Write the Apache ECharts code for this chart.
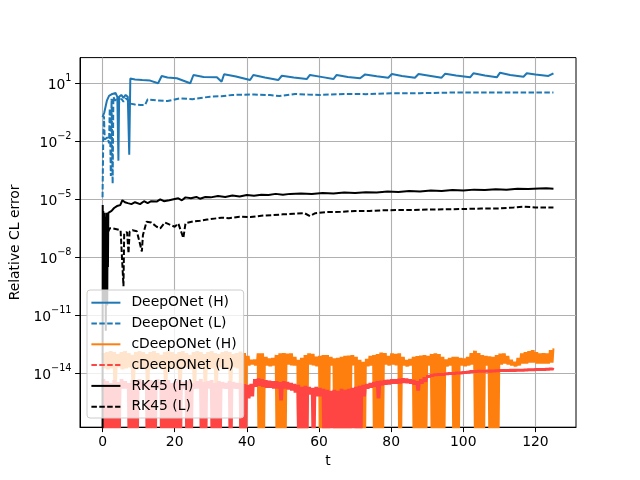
<!DOCTYPE html>
<html>
<head>
<meta charset="UTF-8">
<title>Relative CL error</title>
<script src="https://cdn.jsdelivr.net/npm/echarts/dist/echarts.min.js"></script>
<style>html, body { margin: 0; padding: 0; background: #fff; }</style>
</head>
<body>
<div id="chart" style="width: 640px; height: 480px;"></div>
<script type="text/javascript">
// tick positions
var xTicks = [0, 20, 40, 60, 80, 100, 120];
var yTicks = [1e-14, 1e-11, 1e-8, 1e-5, 1e-2, 1e1];

// [t, log10(error)]
var deepH = [[0,-0.75],[0.5,-0.5],[1.2,0.1],[1.8,0.35],[2.3,0.25],[2.7,0.45],[3.2,0.35],[3.6,0.5],[4.1,0.3],[4.4,-3.0],[4.6,0.3],
  [5.2,0.4],[5.8,0.25],[6.4,0.4],[7.0,0.3],[7.4,-2.7],[7.7,1.25],[9,1.2],[11,1.17],[13.2,1.14],[15.4,1.0],[16.4,1.38],[18,1.3],
  [20.6,1.26],[24.3,1.0],[25.2,1.43],[28,1.33],[31.7,1.31],[33,1.08],[33.7,1.47],[37,1.35],[40.9,1.17],[41.8,1.43],[45,1.3],
  [48.7,1.17],[49.7,1.39],[53,1.3],[56.6,1.22],[57.5,1.43],[61,1.32],[64,1.22],[64.9,1.43],[68,1.33],[71.4,1.26],[72.8,1.46],
  [76,1.37],[79.2,1.29],[80.2,1.48],[83,1.38],[86.6,1.29],[87.6,1.48],[91,1.38],[94,1.29],[95,1.5],[98,1.4],[101.9,1.31],
  [102.8,1.52],[106,1.4],[109.3,1.31],[110.2,1.55],[113,1.43],[116.7,1.34],[117.6,1.52],[120,1.45],[123.6,1.38],[125,1.52]];

var deepL = [[0,-4.9],[0.2,-1.8],[0.4,-0.7],[0.6,-1.9],[1.0,-2.0],[1.4,-1.8],[1.8,-2.1],[2.0,-0.3],[2.3,-3.8],[2.5,0.2],
  [2.8,-4.2],[3.0,0.3],[3.5,0.1],[4.0,0.25],[4.6,0.0],[5.2,0.2],[5.8,0.05],[6.5,0.22],[7.2,0.1],[7.7,-0.05],[9,-0.1],
  [10.5,-0.12],[11.8,-0.12],[12.5,0.17],[15,0.12],[18,0.08],[21.5,0.22],[25,0.18],[29.8,0.31],[33,0.33],[36,0.40],[42,0.42],
  [46.4,0.39],[49,0.34],[53.4,0.45],[57,0.42],[60.3,0.40],[67,0.45],[73,0.44],[80,0.48],[88,0.49],[99,0.53],[108,0.52],
  [116,0.53],[125,0.53]];

var rkH = [[0,-18],[0.05,-5.3],[0.1,-10.0],[0.2,-5.6],[0.3,-9.5],[0.4,-5.8],[0.5,-10.3],[0.6,-5.7],[0.7,-9.0],[0.8,-6.0],
  [0.9,-11.8],[1.0,-5.9],[1.1,-9.8],[1.2,-5.7],[1.3,-10.5],[1.4,-6.0],[1.5,-8.5],[1.6,-5.7],[1.8,-5.7],[2.5,-5.6],
  [3.2,-5.45],[4.0,-5.35],[4.9,-5.3],[5.5,-5.05],[5.8,-4.95],[6.2,-5.15],[7.0,-5.2],[8.0,-5.25],[9.0,-5.15],[10.4,-5.25],
  [11.5,-5.1],[12.5,-5.2],[13.5,-5.1],[15,-5.12],[16,-5.0],[17,-5.1],[18.5,-5.05],[19.7,-5.0],[21,-4.95],[22,-5.05],
  [23,-4.9],[24.5,-4.95],[26,-4.88],[27,-4.97],[28.5,-4.88],[30,-4.9],[32,-4.83],[34,-4.88],[36,-4.8],[38,-4.85],
  [40,-4.78],[42,-4.82],[44,-4.76],[46,-4.78],[48,-4.72],[50,-4.76],[52,-4.72],[55,-4.7],[58,-4.72],[61,-4.68],[64,-4.7],
  [67,-4.65],[70,-4.68],[73,-4.63],[76,-4.65],[79,-4.6],[82,-4.62],[85,-4.57],[88,-4.6],[91,-4.55],[94,-4.57],[97,-4.52],
  [100,-4.55],[103,-4.5],[106,-4.52],[109,-4.48],[112,-4.5],[115,-4.46],[118,-4.47],[121,-4.44],[123,-4.43],[125,-4.45]];

var rkL = [[1.5,-6.7],[2.0,-6.5],[2.8,-6.5],[3.9,-6.55],[5.0,-6.6],[5.8,-9.5],[6.0,-6.75],[6.8,-6.7],[7.2,-7.8],[7.5,-6.68],
  [8.3,-6.6],[9.5,-6.65],[10.9,-7.7],[11.2,-6.85],[12.2,-6.16],[13.5,-6.2],[15,-6.42],[16,-6.5],[17.3,-6.2],[18.5,-6.3],
  [20,-6.42],[21,-6.25],[22.4,-7.0],[23,-6.24],[25,-6.15],[27,-6.11],[29,-6.05],[31,-6.0],[33,-5.95],[35,-5.98],[38,-5.9],
  [41,-5.92],[44,-5.85],[47,-5.82],[50,-5.78],[53,-5.75],[56,-5.72],[57.5,-5.87],[59,-5.72],[62,-5.66],[66,-5.65],[70,-5.6],
  [74,-5.6],[78,-5.57],[82,-5.55],[86,-5.55],[90,-5.53],[95,-5.52],[100,-5.5],[105,-5.48],[110,-5.47],[114,-5.42],
  [117,-5.38],[120,-5.42],[125,-5.43]];

// cDeepONet: per integer t (0..125), upper and lower edge of the noisy band, log10; -18 = drops to zero
var cHTop = [-12.95,-12.9,-12.85,-12.9,-13.0,-12.9,-12.85,-12.95,-13.05,-12.9,
  -12.85,-12.9,-13.0,-12.9,-12.85,-12.95,-13.05,-12.9,-12.85,-12.9,
  -13.0,-12.9,-12.85,-12.95,-13.05,-12.9,-12.85,-12.9,-13.0,-12.9,
  -12.85,-12.95,-13.0,-12.9,-12.85,-12.9,-13.0,-12.95,-12.88,-12.95,
  -13.1,-13.3,-13.28,-12.97,-12.97,-13.15,-13.23,-13.2,-13.05,-12.97,
  -12.95,-12.98,-12.97,-13.15,-13.3,-13.2,-13.05,-12.97,-13.0,-13.14,
  -13.1,-13.05,-13.06,-13.15,-13.23,-13.2,-13.14,-13.1,-13.08,-13.06,
  -13.15,-13.3,-13.4,-13.25,-13.1,-13.06,-13.0,-12.93,-12.95,-13.1,
  -12.97,-13.0,-12.97,-13.15,-13.31,-13.25,-13.15,-13.11,-13.08,-13.06,
  -13.1,-13.0,-12.97,-13.0,-13.15,-13.28,-13.2,-13.15,-13.14,-13.2,
  -13.23,-13.15,-12.95,-12.83,-12.95,-13.06,-13.1,-13.12,-13.14,-13.05,
  -12.98,-12.97,-13.1,-13.3,-13.4,-13.2,-12.97,-12.9,-12.85,-12.8,
  -12.9,-12.97,-12.95,-12.97,-12.8,-12.71];
var cHBot = [-13.75,-13.8,-13.75,-14.5,-13.7,-13.8,-13.75,-13.7,-14.5,-13.8,
  -13.75,-13.7,-14.5,-13.8,-13.75,-13.7,-13.8,-14.5,-13.75,-13.7,
  -13.8,-14.5,-13.75,-13.7,-13.8,-14.5,-13.75,-13.7,-14.5,-13.8,
  -13.75,-14.5,-13.7,-13.8,-13.75,-14.5,-13.7,-13.75,-18,-18,
  -13.6,-13.55,-13.6,-18,-18,-13.6,-13.65,-13.6,-18,-18,
  -18,-13.55,-13.6,-13.6,-18,-18,-18,-13.55,-13.6,-13.65,
  -18,-18,-18,-13.6,-18,-18,-18,-18,-18,-13.6,
  -18,-18,-18,-13.65,-13.6,-18,-18,-18,-13.55,-13.6,
  -13.55,-13.6,-18,-13.6,-13.65,-13.6,-18,-18,-18,-18,
  -13.6,-18,-18,-18,-18,-13.65,-13.6,-18,-18,-13.6,
  -13.65,-13.6,-13.55,-18,-18,-18,-13.6,-18,-18,-18,
  -13.55,-13.5,-13.55,-13.6,-13.65,-13.6,-13.5,-13.5,-13.45,-13.45,
  -13.5,-13.5,-13.5,-13.5,-13.45,-13.4];
var cLTop = [-14.3,-14.4,-14.5,-14.35,-14.45,-14.3,-14.4,-14.5,-14.35,-14.4,
  -14.3,-14.45,-14.5,-14.35,-14.4,-14.3,-14.45,-14.4,-14.35,-14.5,
  -14.4,-14.3,-14.45,-14.4,-14.35,-14.5,-14.4,-14.3,-14.45,-14.4,
  -14.35,-14.5,-14.4,-14.45,-14.5,-14.4,-14.45,-14.5,-14.5,-14.55,
  -14.6,-14.55,-14.3,-14.26,-14.3,-14.35,-14.38,-14.4,-14.4,-14.45,
  -14.4,-14.45,-14.5,-14.55,-14.6,-14.7,-14.65,-14.7,-14.75,-14.7,
  -14.75,-14.8,-14.85,-14.9,-14.85,-14.9,-14.8,-14.85,-14.8,-14.75,
  -14.7,-14.65,-14.6,-14.55,-14.5,-14.45,-14.4,-14.38,-14.35,-14.33,
  -14.3,-14.3,-14.28,-14.26,-14.27,-14.3,-14.35,-14.4,-14.3,-14.2,
  -14.1,-14.05,-14.02,-14.0,-14.0,-13.97,-13.95,-13.95,-13.93,-13.92,
  -13.9,-13.88,-13.85,-13.85,-13.84,-13.84,-13.83,-13.83,-13.82,-13.81,
  -13.8,-13.8,-13.8,-13.79,-13.79,-13.78,-13.78,-13.77,-13.76,-13.76,
  -13.75,-13.75,-13.74,-13.73,-13.72,-13.72];
var cLBot = [-18,-18,-18,-18,-18,-14.8,-14.8,-18,-18,-18,
  -14.8,-14.8,-18,-18,-18,-14.8,-18,-18,-18,-18,
  -18,-18,-14.8,-18,-18,-14.8,-14.8,-18,-18,-14.8,
  -18,-18,-18,-14.8,-14.8,-18,-14.8,-14.8,-18,-18,
  -15.3,-15.2,-14.7,-14.65,-14.7,-14.75,-14.75,-14.8,-14.8,-15.4,
  -14.8,-14.85,-14.9,-15.0,-18,-18,-18,-15.1,-18,-15.2,
  -15.2,-18,-18,-18,-18,-18,-18,-18,-18,-18,
  -18,-18,-15.2,-14.8,-14.75,-14.7,-15.3,-14.63,-14.6,-14.58,
  -14.55,-14.55,-14.53,-14.51,-14.52,-14.55,-14.6,-14.9,-14.55,-14.45,
  -14.22,-14.17,-14.14,-14.12,-14.12,-14.09,-14.07,-14.07,-14.05,-14.04,
  -14.02,-14.0,-13.97,-13.97,-13.96,-13.96,-13.95,-13.95,-13.94,-13.93,
  -13.92,-13.92,-13.92,-13.91,-13.91,-13.9,-13.9,-13.89,-13.88,-13.88,
  -13.87,-13.87,-13.86,-13.85,-13.84,-13.84];

var font = 'DejaVu Sans';
var solidIcon = 'path://M0,0h29v2h-29z';
var dashIcon = 'path://M0,0h5.5v2h-5.5zM7.9,0h5.5v2h-5.5zM15.8,0h5.5v2h-5.5zM23.7,0h5.3v2h-5.3z';

function toPoints(arr) {
  return arr.map(function (p) { return [p[0], Math.pow(10, p[1])]; });
}

// zigzag between upper and lower edge so the dense oscillation reads as a filled band
function bandPoints(tops, bots) {
  var out = [];
  for (var i = 0; i < tops.length; i++) {
    var hi = Math.pow(10, tops[i]), lo = Math.pow(10, bots[i]);
    out.push([i, hi]);
    if (i === tops.length - 1) break;
    out.push([i + 0.25, lo]);
    out.push([i + 0.5, hi]);
    out.push([i + 0.75, lo]);
  }
  return out;
}

function lineSeries(name, data, color, dashed, width) {
  return {
    name: name,
    type: 'line',
    data: data,
    symbol: 'none',
    clip: true,
    lineStyle: { color: color, width: width, type: dashed ? [5.5, 2.4] : 'solid' },
    itemStyle: { color: color },
    emphasis: { disabled: true }
  };
}

var chart = echarts.init(document.getElementById('chart'));

var option = {
  animation: false,
  backgroundColor: '#fff',
  grid: { left: 80, right: 64, top: 57.6, bottom: 52.8, show: true, borderColor: '#000', borderWidth: 1 },
  legend: {
    orient: 'vertical',
    left: 87,
    top: 290,
    itemWidth: 29,
    itemHeight: 2,
    itemGap: 6.8,
    padding: [5.7, 7, 4.3, 4.4],
    backgroundColor: 'rgba(255,255,255,0.8)',
    borderColor: '#cccccc',
    borderWidth: 1,
    borderRadius: 3,
    textStyle: { fontFamily: font, fontSize: 13.9, color: '#000', lineHeight: 14, padding: [0, 0, 0, 6] },
    data: [
      { name: 'DeepONet (H)', icon: solidIcon },
      { name: 'DeepONet (L)', icon: dashIcon },
      { name: 'cDeepONet (H)', icon: solidIcon },
      { name: 'cDeepONet (L)', icon: dashIcon },
      { name: 'RK45 (H)', icon: solidIcon },
      { name: 'RK45 (L)', icon: dashIcon }
    ]
  },
  xAxis: {
    type: 'value',
    min: -6.25,
    max: 131.25,
    name: 't',
    nameLocation: 'middle',
    nameGap: 27,
    nameTextStyle: { fontFamily: font, fontSize: 13.9, color: '#000' },
    axisLine: { show: true, onZero: false, lineStyle: { color: '#000', width: 1 } },
    axisTick: { show: true, customValues: xTicks, length: 4.9, lineStyle: { color: '#000', width: 1 } },
    axisLabel: { customValues: xTicks, margin: 8, fontFamily: font, fontSize: 13.9, color: '#000' },
    splitLine: { show: true, lineStyle: { color: '#b0b0b0', width: 1.1 } }
  },
  yAxis: {
    type: 'log',
    min: Math.pow(10, -16.79),
    max: Math.pow(10, 2.33),
    name: 'Relative CL error',
    nameLocation: 'middle',
    nameGap: 55,
    nameTextStyle: { fontFamily: font, fontSize: 13.9, color: '#000' },
    axisLine: { show: true, onZero: false, lineStyle: { color: '#000', width: 1 } },
    axisTick: { show: true, customValues: yTicks, length: 4.9, lineStyle: { color: '#000', width: 1 } },
    minorTick: { show: false },
    axisLabel: {
      customValues: yTicks,
      margin: 8.5,
      formatter: function (v) {
        var e = Math.round(Math.log10(v));
        return '{b|10}{s|' + String(e).replace('-', '\u2212') + '}';
      },
      rich: {
        b: { fontFamily: font, fontSize: 13.9, color: '#000', lineHeight: 19, verticalAlign: 'bottom' },
        s: { fontFamily: font, fontSize: 9.7, color: '#000', lineHeight: 10, verticalAlign: 'top' }
      }
    },
    splitLine: { show: true, lineStyle: { color: '#b0b0b0', width: 1.1 } }
  },
  series: [
    lineSeries('DeepONet (H)', toPoints(deepH), '#1f77b4', false, 2),
    lineSeries('DeepONet (L)', toPoints(deepL), '#1f77b4', true, 2),
    lineSeries('cDeepONet (H)', bandPoints(cHTop, cHBot), '#ff7f0e', false, 2),
    lineSeries('cDeepONet (L)', bandPoints(cLTop, cLBot), '#ff4444', false, 2),
    lineSeries('RK45 (H)', toPoints(rkH), '#000000', false, 2),
    lineSeries('RK45 (L)', toPoints(rkL), '#000000', true, 2)
  ]
};

chart.setOption(option);
</script>
</body>
</html>
